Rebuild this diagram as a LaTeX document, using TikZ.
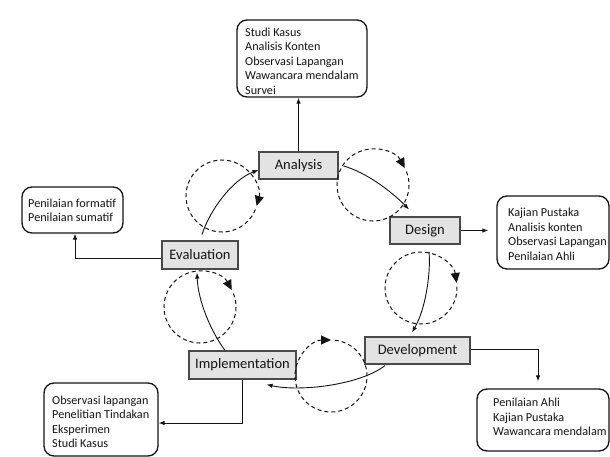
\documentclass[tikz,border=0pt]{standalone}
\usepackage{fontspec}
\setmainfont{Carlito}
\usetikzlibrary{arrows.meta,calc}
\definecolor{boxfill}{HTML}{E3E3E3}
\definecolor{edge}{HTML}{4A4A4A}
\definecolor{ink}{HTML}{141414}
\tikzset{
 stage/.style={draw=edge, line width=1.1pt, fill=boxfill, inner sep=0pt, font=\fontsize{14.5}{17}\selectfont, text=ink},
 infobox/.style={draw=ink, line width=1.3pt, rounded corners=10pt, inner sep=0pt},
 infotext/.style={anchor=west, align=left, inner sep=0pt, font=\fontsize{12.2}{14.5}\selectfont, text=ink},
 conn/.style={draw=ink, line width=0.9pt, -{Latex[length=6pt,width=4.5pt]}},
 loopc/.style={draw=ink, line width=1pt, dash pattern=on 4pt off 3pt, -{Triangle[length=10pt,width=9pt]}},
}
\begin{document}
\begin{tikzpicture}[x=1pt,y=-1pt]
\useasboundingbox (0,0) rectangle (610,457);
\fill[white] (0,0) rectangle (610,457);

% stage boxes
\node[stage, minimum width=79pt, minimum height=27pt] (ana) at (298.5,165.5) {Analysis};
\node[stage, minimum width=70pt, minimum height=27pt] (des) at (425,230.5) {Design};
\node[stage, minimum width=105pt, minimum height=27pt] (dev) at (417.5,350.5) {Development};
\node[stage, minimum width=107pt, minimum height=28pt] (imp) at (242.5,365) {Implementation};
\node[stage, minimum width=76pt, minimum height=28pt] (eva) at (200,255) {Evaluation};

% info boxes
\node[infobox, minimum width=130pt, minimum height=77pt] (ab) at (302,58.5) {};
\node[infotext] (abt) at (245,61) {Studi Kasus\\Analisis Konten\\Observasi Lapangan\\Wawancara mendalam\\Survei};
\node[infobox, minimum width=112pt, minimum height=73pt] (db) at (553,232.5) {};
\node[infotext] (dbt) at (508,234.5) {Kajian Pustaka\\Analisis konten\\Observasi Lapangan\\Penilaian Ahli};
\node[infobox, minimum width=132pt, minimum height=62pt] (vb) at (543,420) {};
\node[infotext] (vbt) at (493,417) {Penilaian Ahli\\Kajian Pustaka\\Wawancara mendalam};
\node[infobox, minimum width=101pt, minimum height=46pt] (eb) at (72.5,210) {};
\node[infotext] (ebt) at (28,210.5) {Penilaian formatif\\Penilaian sumatif};
\node[infobox, minimum width=114pt, minimum height=73pt] (ib) at (101,419.5) {};
\node[infotext] (ibt) at (52,422) {Observasi lapangan\\Penelitian Tindakan\\Eksperimen\\Studi Kasus};

% elbow connectors
\draw[conn] (ana.north) -- (ana.north |- ab.south);
\draw[conn, shorten >=8pt] (des.east) -- (des.east -| db.west);
\draw[conn, shorten >=7pt] ([shift={(0,-1)}]dev.east) -| ([shift={(-5,0)}]vb.north);
\draw[conn] (imp.south) |- ([shift={(0,3.5)}]ib.east);
\draw[conn] ([shift={(0,3)}]eva.west) -| ([shift={(2.5,0)}]eb.south);

% cycle arrows
\draw[conn] ([shift={(2,-6)}]eva.north) .. controls (210,210) and (232,180) .. ([shift={(0,4.5)}]ana.west);
\draw[conn] ([shift={(5,0.5)}]ana.east) .. controls (365,172) and (390,190) .. ([shift={(-16,-7)}]des.north);
\draw[conn] ([shift={(4,7)}]des.south) .. controls (431,275) and (425,310) .. ([shift={(-5.5,-4)}]dev.north);
\draw[conn] ([shift={(-32.5,1)}]dev.south) .. controls (360,385) and (300,392) .. ([shift={(-30,5)}]imp.south east);
\draw[conn] ([shift={(-17.5,0)}]imp.north) .. controls (210,330) and (198,300) .. ([shift={(-3,3)}]eva.south);

% dashed loops
\coordinate (c1) at (222,196);
\coordinate (c2) at (373,185);
\coordinate (c3) at (421,288);
\coordinate (c4) at (331,376);
\coordinate (c5) at (200,307);
\draw[loopc] ([shift={(22:36)}]c1) arc[start angle=22, end angle=376, radius=36];
\draw[loopc] ([shift={(-22:36)}]c2) arc[start angle=-22, end angle=332, radius=36];
\draw[loopc] ([shift={(-2:36)}]c3) arc[start angle=-2, end angle=352, radius=36];
\draw[loopc] ([shift={(-84:36)}]c4) arc[start angle=-84, end angle=270, radius=36];
\draw[loopc] ([shift={(-22:36)}]c5) arc[start angle=-22, end angle=332, radius=36];
\end{tikzpicture}
\end{document}
